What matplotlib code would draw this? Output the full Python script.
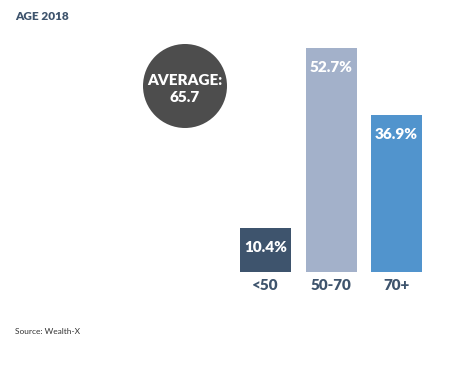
import matplotlib.pyplot as plt
from matplotlib.patches import Circle

plt.rcParams['font.family'] = ['Lato', 'DejaVu Sans']

# data
groups = ['<50', '50-70', '70+']
shares = [10.4, 52.7, 36.9]
colors = ['#3e546d', '#a3b1ca', '#5194cd']
average = 65.7

W, H = 475, 375
fig = plt.figure(figsize=(W / 100, H / 100), dpi=100)

# bars: centres 65.5px apart, baseline at y=272px from top
unit = 65.5
left = 265.5 - 0.5 * unit
bottom = 272
top = 48
ax = fig.add_axes([left / W, (H - bottom) / H, 3 * unit / W, (bottom - top) / H])
ax.set_xlim(-0.5, 2.5)
ax.set_ylim(0, max(shares))

x = range(len(groups))
ax.bar(x, shares, width=51 / unit, color=colors)
for i, v in zip(x, shares):
    ax.annotate('%.1f%%' % v, (i, v), xytext=(0, -14), textcoords='offset points',
                ha='center', va='center', color='white', fontsize=11, fontweight='heavy')

ax.set_xticks(list(x))
ax.set_xticklabels(groups, fontsize=11, fontweight='heavy', color='#3e546d')
ax.tick_params(axis='x', length=0, pad=5)
ax.set_yticks([])
for s in ax.spines.values():
    s.set_visible(False)

# average bubble, own axes so the circle stays round
cax = fig.add_axes([143 / W, (H - 128) / H, 84 / W, 84 / H])
cax.set_xlim(-1, 1)
cax.set_ylim(-1, 1)
cax.axis('off')
cax.add_patch(Circle((0, 0), 1, facecolor='#4d4d4d', edgecolor='none'))
cax.text(0, 0.13, 'AVERAGE:', ha='center', va='center', color='white',
         fontsize=11, fontweight='heavy')
cax.text(0, -0.27, '%.1f' % average, ha='center', va='center', color='white',
         fontsize=11, fontweight='heavy')

fig.text(15 / W, 1 - 16 / H, 'AGE 2018', ha='left', va='center',
         fontsize=8.5, fontweight='heavy', color='#3e546d')
fig.text(15 / W, 1 - 331 / H, 'Source: Wealth-X', ha='left', va='center',
         fontsize=6, color='#333333')

fig.savefig('out.png', dpi=100)
